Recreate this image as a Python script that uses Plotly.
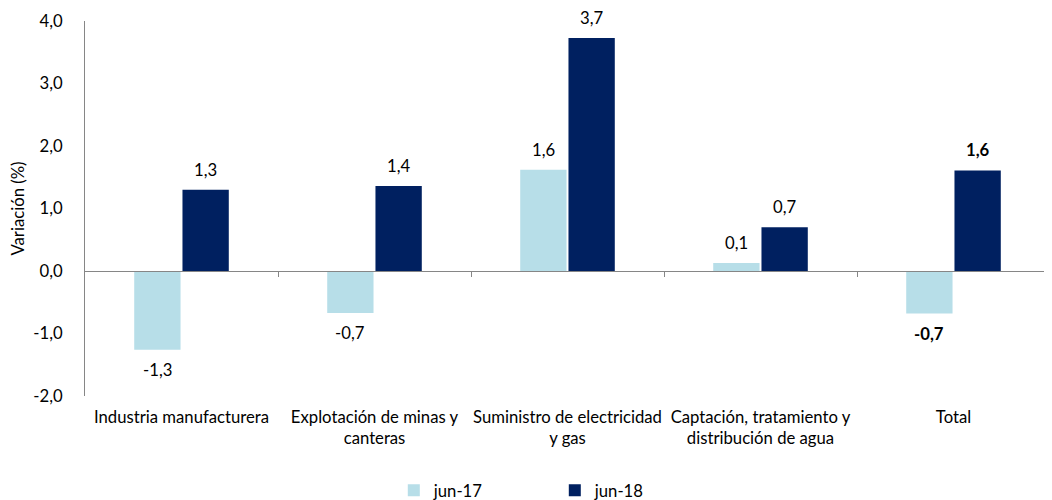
import plotly.graph_objects as go

categories = [
    "Industria manufacturera",
    "Explotación de minas y<br>canteras",
    "Suministro de electricidad<br>y gas",
    "Captación, tratamiento y<br>distribución de agua",
    "Total",
]
jun17 = [-1.26, -0.67, 1.62, 0.13, -0.68]
jun18 = [1.30, 1.36, 3.73, 0.70, 1.61]
series_names = ["jun-17", "jun-18"]
y_ticks = [-2, -1, 0, 1, 2, 3, 4]
y_range = [-2, 4]

LIGHT = "#B7DEE8"
DARK = "#002060"
FONT = "Lato"
FS = 16.7
BARGAP = 0.5


def fmt(v, bold=False):
    s = f"{v:.1f}".replace(".", ",")
    return f"<b>{s}</b>" if bold else s


fig = go.Figure()
n = len(categories)
idx = list(range(n))
series = [(series_names[0], jun17, LIGHT), (series_names[1], jun18, DARK)]
for name, vals, col in series:
    fig.add_trace(go.Bar(
        x=idx, y=vals, name=name, marker_color=col, marker_line_width=0,
    ))

# data labels
half = (1 - BARGAP) / 4
for s, (name, vals, col) in enumerate(series):
    off = -half if s == 0 else half
    for i, v in enumerate(vals):
        fig.add_annotation(
            x=i + off, y=v, text=fmt(v, i == n - 1), showarrow=False,
            yshift=20 if v >= 0 else -20,
            font=dict(family=FONT, size=FS, color="#000000"),
        )

# empty trace so the zero-level axis renders
fig.add_trace(go.Scatter(x=[], y=[], xaxis="x2", showlegend=False, hoverinfo="skip"))

zero_pos = (0 - y_range[0]) / (y_range[1] - y_range[0])

fig.update_layout(
    width=1044, height=492,
    margin=dict(l=77, r=2, t=13, b=104, autoexpand=False),
    paper_bgcolor="white", plot_bgcolor="white",
    font=dict(family=FONT, size=FS, color="#000000"),
    barmode="group", bargap=BARGAP, bargroupgap=0.04,
    showlegend=True,
    legend=dict(orientation="h", x=0.32, xanchor="left", y=-0.205, yanchor="top",
                entrywidth=116, itemwidth=30, font=dict(size=FS, family=FONT)),
    xaxis=dict(range=[-0.5, n - 0.5], showline=False, ticks="", showgrid=False,
               tickvals=idx, ticktext=categories, automargin=False,
               ticklabelstandoff=9,
               tickfont=dict(size=FS, family=FONT)),
    xaxis2=dict(overlaying="x", anchor="free", position=zero_pos, range=[-0.5, n - 0.5],
                type="linear", showline=True, linecolor="#868686", linewidth=1,
                ticks="outside", ticklen=5, tickcolor="#868686",
                tickvals=[i + 0.5 for i in range(n)], showticklabels=False,
                showgrid=False, zeroline=False, automargin=False),
    yaxis=dict(range=y_range, tickvals=y_ticks, ticktext=[fmt(t) for t in y_ticks],
               showgrid=False,
               zeroline=False, showline=True, linecolor="#868686", linewidth=1,
               ticks="", ticklabelstandoff=18, automargin=False,
               title=dict(text="Variación (%)", font=dict(size=FS, family=FONT), standoff=6),
               tickfont=dict(size=FS, family=FONT)),
)

fig.write_html("out.html")
